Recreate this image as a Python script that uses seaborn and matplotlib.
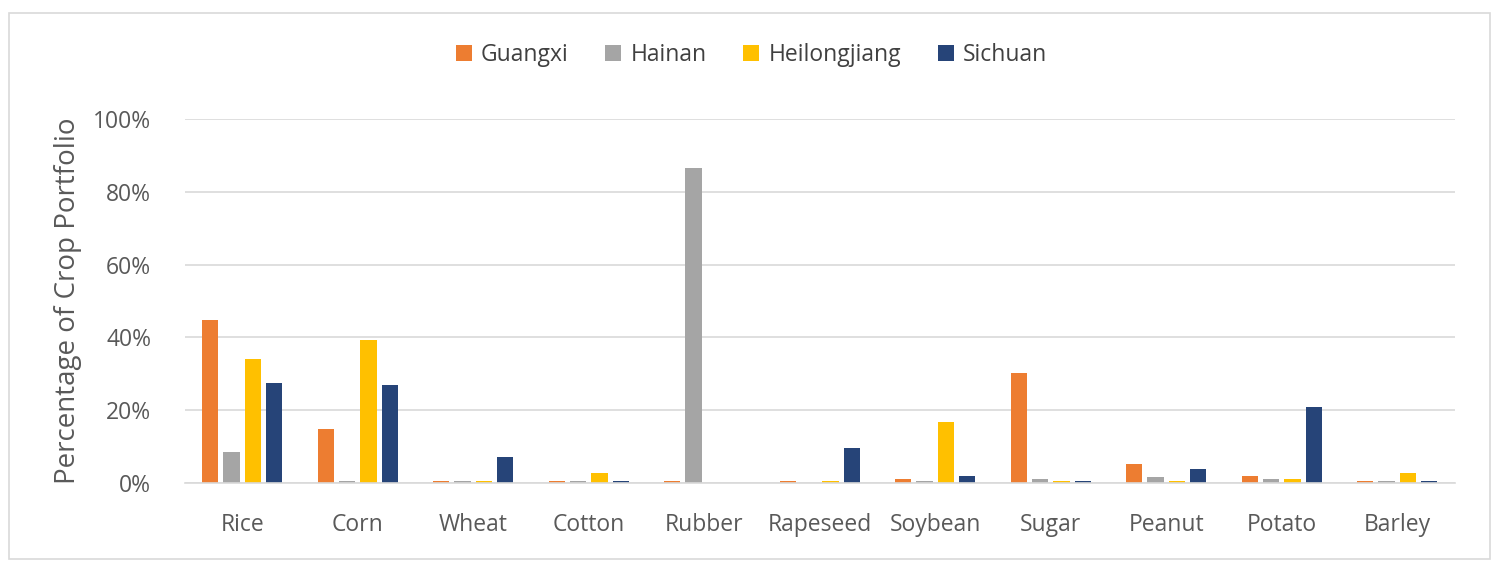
import numpy as np
import pandas as pd
import matplotlib
matplotlib.use("Agg")
import matplotlib.pyplot as plt
import seaborn as sns
from matplotlib.ticker import PercentFormatter
from matplotlib.patches import Rectangle

crops = ["Rice", "Corn", "Wheat", "Cotton", "Rubber", "Rapeseed",
         "Soybean", "Sugar", "Peanut", "Potato", "Barley"]
provinces = ["Guangxi", "Hainan", "Heilongjiang", "Sichuan"]

# percent of crop portfolio
guangxi = [44.8, 14.8, 0.6, 0.6, 0.6, 0.6, 1.1, 30.3, 5.3, 2.0, 0.6]
hainan = [8.5, 0.6, 0.6, 0.6, 86.5, 0.0, 0.6, 1.0, 1.5, 1.0, 0.6]
heilongjiang = [34.0, 39.3, 0.6, 2.8, 0.0, 0.6, 16.8, 0.6, 0.6, 1.0, 2.8]
sichuan = [27.5, 27.0, 7.2, 0.6, 0.0, 9.6, 2.0, 0.6, 3.8, 20.8, 0.6]

colors = ["#ED7D31", "#A5A5A5", "#FFC000", "#264478"]
text_col = "#595959"

df = pd.DataFrame({
    "crop": crops * 4,
    "province": np.repeat(provinces, len(crops)),
    "value": guangxi + hainan + heilongjiang + sichuan,
})

sns.set_theme(style="white")
plt.rcParams["font.family"] = ["Open Sans", "DejaVu Sans"]

fig = plt.figure(figsize=(15, 5.7), dpi=100)
ax = fig.add_axes([0.123, 0.153, 0.847, 0.638])

sns.barplot(data=df, x="crop", y="value", hue="province", order=crops,
            hue_order=provinces, palette=colors, width=0.74, gap=0.24,
            saturation=1, linewidth=0, ax=ax, legend=True)

ax.set_ylim(0, 100)
ax.set_xlim(-0.5, len(crops) - 0.5)
ax.set_yticks(range(0, 101, 20))
ax.yaxis.set_major_formatter(PercentFormatter(decimals=0))
ax.grid(axis="y", color="#D9D9D9", linewidth=1.2)
ax.set_axisbelow(True)
for s in ["top", "right", "left"]:
    ax.spines[s].set_visible(False)
ax.spines["bottom"].set_color("#D9D9D9")
ax.spines["bottom"].set_linewidth(1.2)
ax.tick_params(axis="y", length=0, labelsize=16.5, colors=text_col, pad=24)
ax.tick_params(axis="x", length=0, labelsize=16.5, colors=text_col, pad=22)
ax.set_xlabel("")
ax.set_ylabel("Percentage of Crop Portfolio", fontsize=20, color=text_col, labelpad=8)

handles, labels = ax.get_legend_handles_labels()
ax.legend(handles, labels, loc="center", bbox_to_anchor=(0.501, 0.904),
          bbox_transform=fig.transFigure,
          ncol=4, frameon=False, fontsize=16.5, handlelength=0.7, handleheight=0.7,
          handletextpad=0.4, columnspacing=1.6, labelcolor="#404040")

# light outer border like the source chart
fig.patches.append(Rectangle((0.006, 0.02), 0.987, 0.958, transform=fig.transFigure,
                             fill=False, edgecolor="#D9D9D9", linewidth=1.2))

fig.savefig("out.png", dpi=100)
